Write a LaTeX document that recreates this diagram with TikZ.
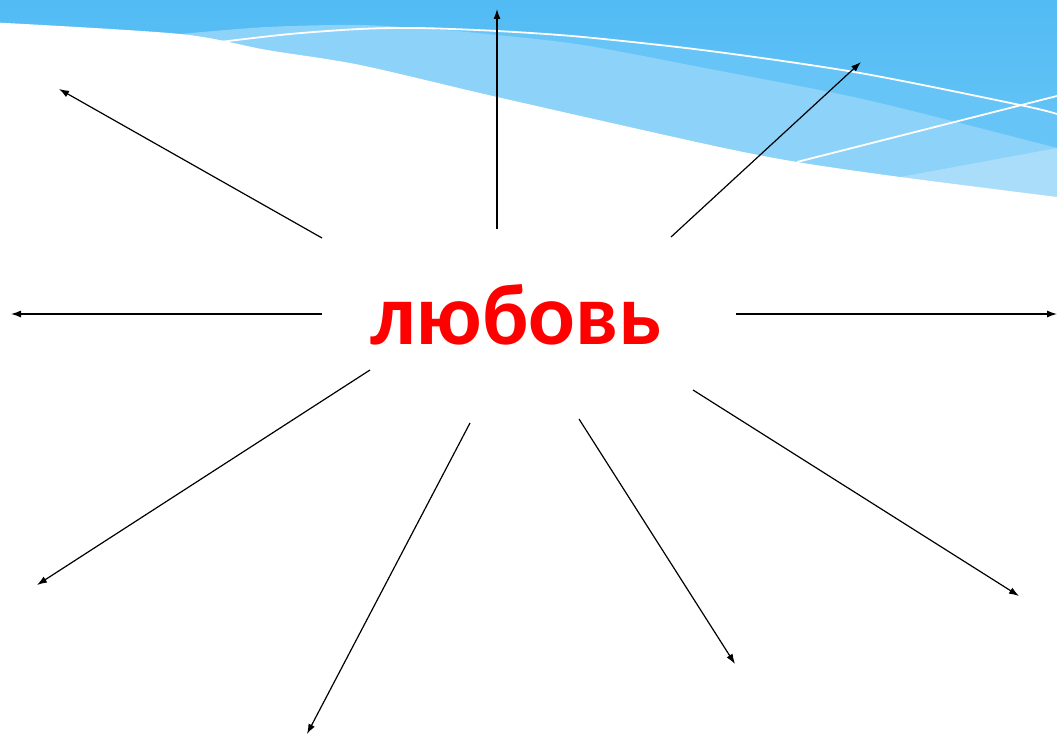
\documentclass[tikz,border=0pt]{standalone}
\usepackage{fontspec}
\newfontfamily\wordfont{Carlito}
\usetikzlibrary{arrows.meta}

\definecolor{skydark}{HTML}{52BBF4}
\definecolor{skymid}{HTML}{66C5F6}
\definecolor{skylight}{HTML}{8DD2F8}
\definecolor{skypale}{HTML}{A9DDFA}
\definecolor{wordred}{HTML}{FF0000}

\tikzset{
  ray/.style={black, line width=1.2pt, -{Latex[length=10pt,width=7pt]}},
  wave/.style={white, line width=1.8pt},
}

\begin{document}
\begin{tikzpicture}[x=1pt,y=-1pt]
        \useasboundingbox (0,0) rectangle (1057,735);

        % Sky band at the top
        \shade[top color=skydark, bottom color=skymid] (0,0) rectangle (1057,150);
        \fill[skydark] (0,0) rectangle (1057,1);
        \fill[skymid] plot[smooth] coordinates {(443,30) (497,31) (583,37) (710,51) (860,73) (1020,105) (1057,114)}
            -- (1057,210) -- (443,210) -- cycle;
        \fill[skylight] plot[smooth] coordinates {(180,34) (267,27) (360,25) (443,30) (497,35) (583,45) (710,69) (867,100) (1057,148)}
            -- (1057,210) -- (180,210) -- cycle;
        \fill[skypale] (900,177) -- (1057,148) -- (1057,210) -- cycle;

        % Thin white lines across the band
        \draw[wave] plot[smooth] coordinates {(220,42) (290,34) (360,29) (417,28) (497,31) (583,37) (710,51) (860,73) (1020,105) (1057,114)};
        \draw[wave] (797,162) -- (1057,96);

        % White page below the band
        \fill[white] plot[smooth] coordinates {(0,22.7) (180,34) (267,50) (360,65) (497,97) (710,145) (797,162) (900,177) (1057,197)}
            -- (1057,735) -- (0,735) -- cycle;

        % The word in the middle
        \node[anchor=base, text=wordred, font=\wordfont\bfseries\fontsize{87}{96}\selectfont, inner sep=0pt] (love) at (516,344) {любовь};

        % Rays going out of the word
        \foreach \i/\sx/\sy/\ex/\ey in {1/322/238/59/89, 2/497/229/497/9, 3/671/237/861/62,
                4/322/314/11/314, 5/736/314/1057/314, 6/370/370/37/585,
                7/470/423/307/734, 8/579/419/735/664, 9/693/390/1019/596} {
            \coordinate (s\i) at (\sx,\sy);
            \coordinate (e\i) at (\ex,\ey);
            \draw[ray] (s\i) -- (e\i);
        }
\end{tikzpicture}
\end{document}
